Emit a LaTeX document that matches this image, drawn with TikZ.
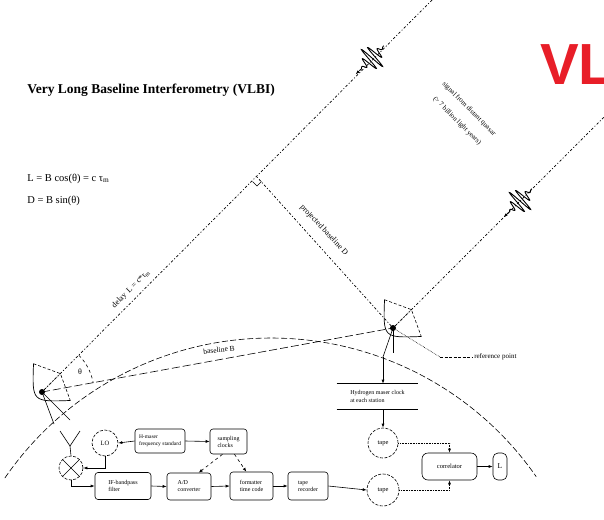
\documentclass[tikz,border=0pt]{standalone}
\usepackage{fontspec}
\setmainfont{Liberation Serif}
\newfontfamily\bannerfont{Liberation Sans}
\usetikzlibrary{arrows.meta,calc}
\definecolor{bannerred}{RGB}{232,30,40}

\begin{document}
\begin{tikzpicture}[x=1pt,y=-1pt,
  line width=0.6pt,
  tiny/.style={font=\fontsize{6}{6.5}\selectfont, inner sep=0pt, align=center},
  blk/.style={draw, rounded corners=3pt, font=\fontsize{6}{7}\selectfont, align=left, inner sep=1.5pt},
  rnd/.style={draw, circle, dash pattern=on 3pt off 1.5pt, font=\fontsize{6.5}{7}\selectfont, inner sep=0pt},
  arr/.style={-{Latex[length=4pt,width=3pt]}},
  darr/.style={dashed, -{Latex[length=4pt,width=3pt]}},
  ray/.style={dash pattern=on 1pt off 2pt on 2.5pt off 2pt, line width=0.7pt},
  earth/.style={dash pattern=on 6pt off 2.5pt},
  base/.style={dash pattern=on 8pt off 3pt},
  dish/.pic={
    % reflector seen edge-on, with feed support struts
    \draw[line width=0.7pt] (14,-26) .. controls (-14,0) .. (14,26);
    \draw[densely dashed] (14,-26) -- (26,0) -- (14,26);
    \draw[densely dotted] (0,0) -- (26,0);
    \fill (0,0) circle (3);
  },
  packet/.pic={
    \draw[line width=0.9pt] plot[smooth, samples=100, domain=-17:17] (\x,{14*exp(-(\x*\x)/70)*sin(60*\x)});
    \draw[-{Latex[length=4pt,width=3pt]}] (-16,0) -- (-23,0);
  }
]
\clip (0,0) rectangle (604,519);
\fill[white] (0,0) rectangle (604,519);

% headings
\node[anchor=base west, inner sep=0, font=\bfseries\fontsize{13.5}{15}\selectfont] (title) at (27,93) {Very Long Baseline Interferometry (VLBI)};
\node[anchor=base west, inner sep=0, font=\fontsize{10.5}{12}\selectfont] (eq1) at (27,181) {L = B cos(θ) = c τ\textsubscript{m}};
\node[anchor=base west, inner sep=0, font=\fontsize{10.5}{12}\selectfont] (eq2) at (27,203) {D = B sin(θ)};
\node[anchor=base west, inner sep=0, text=bannerred, font=\bannerfont\bfseries\fontsize{58}{60}\selectfont] (banner) at (540,84) {VLBI};

% stations and geometry
\coordinate (lhub) at (42,392);
\coordinate (rhub) at (393,328);
\coordinate (foot) at (257,177);
\coordinate (lfar) at (440,-8);
\coordinate (rfar) at (620,101);
\coordinate (ec) at (271,661);

\draw[earth] (ec) ++(-145.5:323) arc[start angle=-145.5, end angle=-34.8, radius=323];
\draw[ray] (lhub) -- (lfar);
\draw[ray] (rhub) -- (rfar);
\draw[ray] (foot) -- (rhub);
\draw ($(foot)+(-4.5,4.5)$) -- ($(foot)+(0,9)$) -- ($(foot)+(4.5,4.5)$);
\draw[base] (lhub) -- (rhub);
\draw[dashed] (lhub) ++(-45:52) arc[start angle=-45, end angle=-10, radius=52];
\node[tiny, font=\fontsize{8}{9}\selectfont] (theta) at ($(lhub)+(-28:43)$) {θ};

% antennas
\pic[rotate=45] at (lhub) {dish};
\pic[rotate=45] at (rhub) {dish};
\draw (lhub) -- (54,424);
\draw (lhub) -- (70,420);
\coordinate (lfeed1) at (60,431);
\coordinate (lfeed2) at (80,431);
\coordinate (lyjoin) at (70,446);
\draw (lfeed1) -- (lyjoin) -- (lfeed2);
\coordinate (rbase) at (383,357);
\draw (rhub) -- (rbase);
\draw (rhub) -- (393,353);

% wave packets travelling from the source
\pic[rotate=45] at (372,58) {packet};
\pic[rotate=45] at (520,201) {packet};

% labels on the geometry
\node[tiny, rotate=45, font=\fontsize{8}{9}\selectfont] (dlbl) at (131,289) {delay\, L = c*τ\textsubscript{m}};
\node[tiny, rotate=-47, font=\fontsize{8}{9}\selectfont] (plbl) at (324,230) {projected baseline D};
\node[tiny, rotate=6, font=\fontsize{7.5}{8}\selectfont] (blbl) at (219,350) {baseline B};
\node[tiny, rotate=-45, font=\fontsize{7}{8}\selectfont] (slbl1) at (469,109) {signal from distant quasar};
\node[tiny, rotate=-45, font=\fontsize{7}{8}\selectfont] (slbl2) at (457,121) {(> 7 billion light years)};
\coordinate (refp) at (440,357);
\draw[densely dotted] (rhub) -- (refp);
\draw[dash pattern=on 3pt off 1.5pt] (refp) -- (472,357) node[tiny, anchor=west, inner sep=2pt, font=\fontsize{7}{8}\selectfont] (rlbl) {reference point};

% station electronics
\node[rnd, minimum size=24pt] (mixer) at (71,468) {};
\draw ($(mixer.center)+(-8.5,-8.5)$) -- ($(mixer.center)+(8.5,8.5)$);
\draw ($(mixer.center)+(-8.5,8.5)$) -- ($(mixer.center)+(8.5,-8.5)$);
\node[rnd, minimum size=26pt] (lo) at (105,443) {LO};
\node[blk, minimum width=50pt, minimum height=24pt, font=\fontsize{5.5}{7}\selectfont] (hmaser) at (160,441) {H-maser\\frequency standard};
\node[blk, minimum width=37pt, minimum height=25pt] (timing) at (228.5,441.5) {sampling\\clocks};
\node[blk, minimum width=56pt, minimum height=27pt] (ifb) at (123,486) {IF-bandpass\\filter};
\node[blk, minimum width=44pt, minimum height=27pt] (adc) at (189,486.5) {A/D\\converter};
\node[blk, minimum width=43pt, minimum height=28pt] (fmt) at (251.5,486) {formatter\\time code};
\node[blk, minimum width=40pt, minimum height=28pt] (rec) at (308,486) {tape\\recorder};

\draw (lyjoin) -- (mixer.north);
\draw[arr] (mixer.south) |- (ifb.west);
\draw[arr] (lo.south) |- (mixer.east);
\draw[arr] (hmaser.west) -- (lo.east);
\draw[arr] (hmaser.east) -- (timing.west);
\draw[darr] (timing.-115) -- (adc.55);
\draw[darr] (timing.-65) -- (fmt.110);
\draw[arr] (ifb.east) -- (adc.west);
\draw[arr] (adc.east) -- (fmt.west);
\draw[arr] (fmt.east) -- (rec.west);

% processing chain
\node[font=\fontsize{6}{7.5}\selectfont, align=left, minimum width=81pt, minimum height=25pt, inner sep=1.5pt] (hclock) at (377.5,396.5) {Hydrogen maser clock\\at each station};
\draw (hclock.north west) -- (hclock.north east);
\draw (hclock.south west) -- (hclock.south east);
\node[rnd, minimum size=30pt] (tape1) at (383,443) {tape};
\node[rnd, minimum size=32pt] (tape2) at (383,490) {tape};
\node[blk, rounded corners=6pt, font=\fontsize{6.5}{7}\selectfont, minimum width=55pt, minimum height=27pt] (corr) at (449.5,466.5) {correlator};
\node[draw, rounded corners=5pt, font=\fontsize{7.5}{8}\selectfont, minimum width=14pt, minimum height=27pt, inner sep=0pt] (lout) at (500,466.5) {L};

\draw[arr] (rbase) -- (rbase |- hclock.north);
\draw[arr] (tape1.north |- hclock.south) -- (tape1.north);
\draw[arr] (rec.east) -- (tape2.west);
\draw[densely dotted, arr] (tape1.east) -| (corr.north);
\draw[densely dotted, arr] (tape2.east) -| (corr.south);
\draw[arr] (corr.east) -- (lout.west);
\end{tikzpicture}
\end{document}
